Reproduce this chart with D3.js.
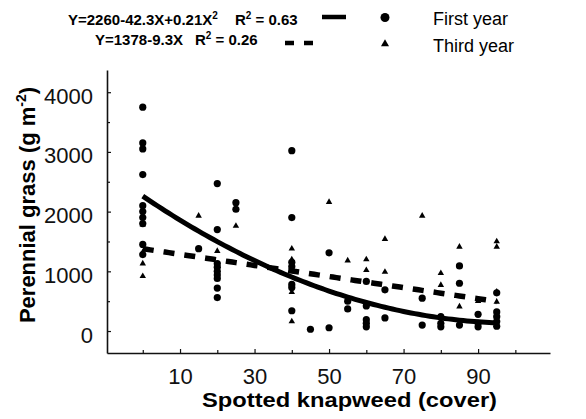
<!DOCTYPE html>
<html>
<head>
<meta charset="utf-8">
<script src="https://cdn.jsdelivr.net/npm/d3@7"></script>
<style>
  body { margin: 0; background: #fff; }
  svg { display: block; font-family: "Liberation Sans", Arial, sans-serif; }
</style>
</head>
<body>
<svg width="586" height="419"></svg>
<script>
// cover values (x) and grass biomass (y)
const firstX = [0,0,0,0,0,0,0,0,0,0, 15, 20,20,20,20,20,20,20,20,20, 25,25,
  40,40,40,40,40,40,40, 45, 50,50, 55,55, 60,60,60,60,60, 65,65, 75,75,
  80,80,80, 85,85,85, 90,90,90, 95,95,95,95,95];
const firstY = [3750,3150,3050,2620,2100,2000,1900,1800,1450,1280, 1380,
  2470,1700,1130,1070,1000,940,880,720,560, 2150,2040,
  3020,1900,1150,1080,780,730,340, 30, 1310,55, 500,370,
  830,420,190,130,70, 690,220, 550,100, 240,130,70, 1090,800,100,
  280,130,70, 640,320,240,160,80];

const thirdX = [0,0,0,0, 15, 20, 25, 40,40,40,40,40, 50, 55, 60,60,60,
  65,65, 75, 80,80, 85,85, 90, 95,95,95,95];
const thirdY = [1780,1320,1130,920, 1930, 1340, 1760, 1380,1200,1020,650,160,
  2160, 1180, 1200,1020,440, 1540,990, 1930, 970,770, 1410,410, 500,
  1500,1410,660,490];

// regression coefficients from the legend
const fitFirst = [2260, -42.3, 0.21];
const fitThird = [1378, -9.3];
const fitRange = [0, 95];

const yTicks = [0, 1000, 2000, 3000, 4000];
const yMinor = [500, 1500, 2500, 3500];
const xTicks = [10, 30, 50, 70, 90];
const xMinor = [0, 20, 40, 60, 80, 100];

const svg = d3.select("svg");
const x = d3.scaleLinear().domain([-9.6, 109.3]).range([107, 550]);
const y = d3.scaleLinear().domain([-368, 4372]).range([353, 70]);

// axes
const yAxis = svg.append("g").attr("transform", "translate(107,0)")
  .call(d3.axisLeft(y).tickValues(yTicks).tickFormat(d3.format("d"))
    .tickSizeInner(-4).tickSizeOuter(0).tickPadding(14));
svg.append("g").attr("transform", "translate(107,0)")
  .call(d3.axisLeft(y).tickValues(yMinor).tickSizeInner(-3).tickSizeOuter(0).tickFormat(""))
  .select(".domain").remove();
yAxis.selectAll("text").attr("dy", "0.5em");

svg.append("g").attr("transform", "translate(0,353)")
  .call(d3.axisBottom(x).tickValues(xTicks).tickSizeInner(-4).tickSizeOuter(0).tickPadding(15));
svg.append("g").attr("transform", "translate(0,353)")
  .call(d3.axisBottom(x).tickValues(xMinor).tickSizeInner(-3).tickSizeOuter(0).tickFormat(""))
  .select(".domain").remove();

svg.selectAll(".domain").attr("stroke", "#111").attr("stroke-width", 1.6);
svg.selectAll(".tick line").attr("stroke", "#111").attr("stroke-width", 1.2);
svg.selectAll(".tick text").attr("font-size", 22).attr("fill", "#111")
  .attr("font-family", "Liberation Sans, Arial, sans-serif");

// axis titles
svg.append("text")
  .attr("x", 202).attr("y", 407)
  .attr("font-size", 20).attr("font-weight", "bold")
  .attr("textLength", 295).attr("lengthAdjust", "spacingAndGlyphs")
  .text("Spotted knapweed (cover)");

const yt = svg.append("text")
  .attr("transform", "translate(35,205) rotate(-90)")
  .attr("text-anchor", "middle")
  .attr("font-size", 22).attr("font-weight", "bold");
yt.append("tspan").text("Perennial grass (g m");
yt.append("tspan").attr("font-size", 14).attr("dy", -9).text("-2");
yt.append("tspan").attr("dy", 9).text(")");

// fitted lines
const steps = d3.range(fitRange[0], fitRange[1] + 0.5, 1);
const line = d3.line().x(d => x(d[0])).y(d => y(d[1]));

svg.append("path")
  .datum(steps.map(v => [v, fitFirst[0] + fitFirst[1] * v + fitFirst[2] * v * v]))
  .attr("d", line).attr("fill", "none").attr("stroke", "#000").attr("stroke-width", 5);

svg.append("path")
  .datum(steps.map(v => [v, fitThird[0] + fitThird[1] * v]))
  .attr("d", line).attr("fill", "none").attr("stroke", "#000").attr("stroke-width", 5.5)
  .attr("stroke-dasharray", "11,10");

// points
svg.append("g").selectAll("circle")
  .data(firstX.map((v, i) => [v, firstY[i]]))
  .enter().append("circle")
    .attr("cx", d => x(d[0]))
    .attr("cy", d => y(d[1]))
    .attr("r", 3.6)
    .attr("fill", "#000");

const tri = d3.symbol().type(d3.symbolTriangle).size(18);
svg.append("g").selectAll("path")
  .data(thirdX.map((v, i) => [v, thirdY[i]]))
  .enter().append("path")
    .attr("d", tri)
    .attr("transform", d => "translate(" + x(d[0]) + "," + y(d[1]) + ")")
    .attr("fill", "#000");

// legend
const leg = svg.append("g").attr("font-weight", "bold").attr("font-size", 15);
function rsq(g, xPos, yPos, val) {
  const t = g.append("text").attr("x", xPos).attr("y", yPos);
  t.append("tspan").text("R");
  t.append("tspan").attr("font-size", 10).attr("dy", -6).text("2");
  t.append("tspan").attr("dy", 6).text(" = " + val);
  return t;
}
const l1 = leg.append("text").attr("x", 68).attr("y", 25);
l1.append("tspan").text("Y=2260-42.3X+0.21X");
l1.append("tspan").attr("font-size", 10).attr("dy", -6).text("2");
rsq(leg, 235, 25, "0.63");

leg.append("text").attr("x", 95).attr("y", 45).text("Y=1378-9.3X");
rsq(leg, 195, 45, "0.26");

svg.append("line").attr("x1", 322).attr("x2", 346).attr("y1", 17).attr("y2", 17)
  .attr("stroke", "#000").attr("stroke-width", 4.5);
svg.append("line").attr("x1", 285).attr("x2", 315).attr("y1", 43).attr("y2", 43)
  .attr("stroke", "#000").attr("stroke-width", 4.5).attr("stroke-dasharray", "9,10");

svg.append("circle").attr("cx", 385).attr("cy", 17.5).attr("r", 4.5).attr("fill", "#000");
svg.append("path").attr("d", d3.symbol().type(d3.symbolTriangle).size(28))
  .attr("transform", "translate(385,44)").attr("fill", "#000");

svg.append("text").attr("x", 433).attr("y", 25).attr("font-size", 18).text("First year");
svg.append("text").attr("x", 433).attr("y", 52).attr("font-size", 18).text("Third year");
</script>
</body>
</html>
